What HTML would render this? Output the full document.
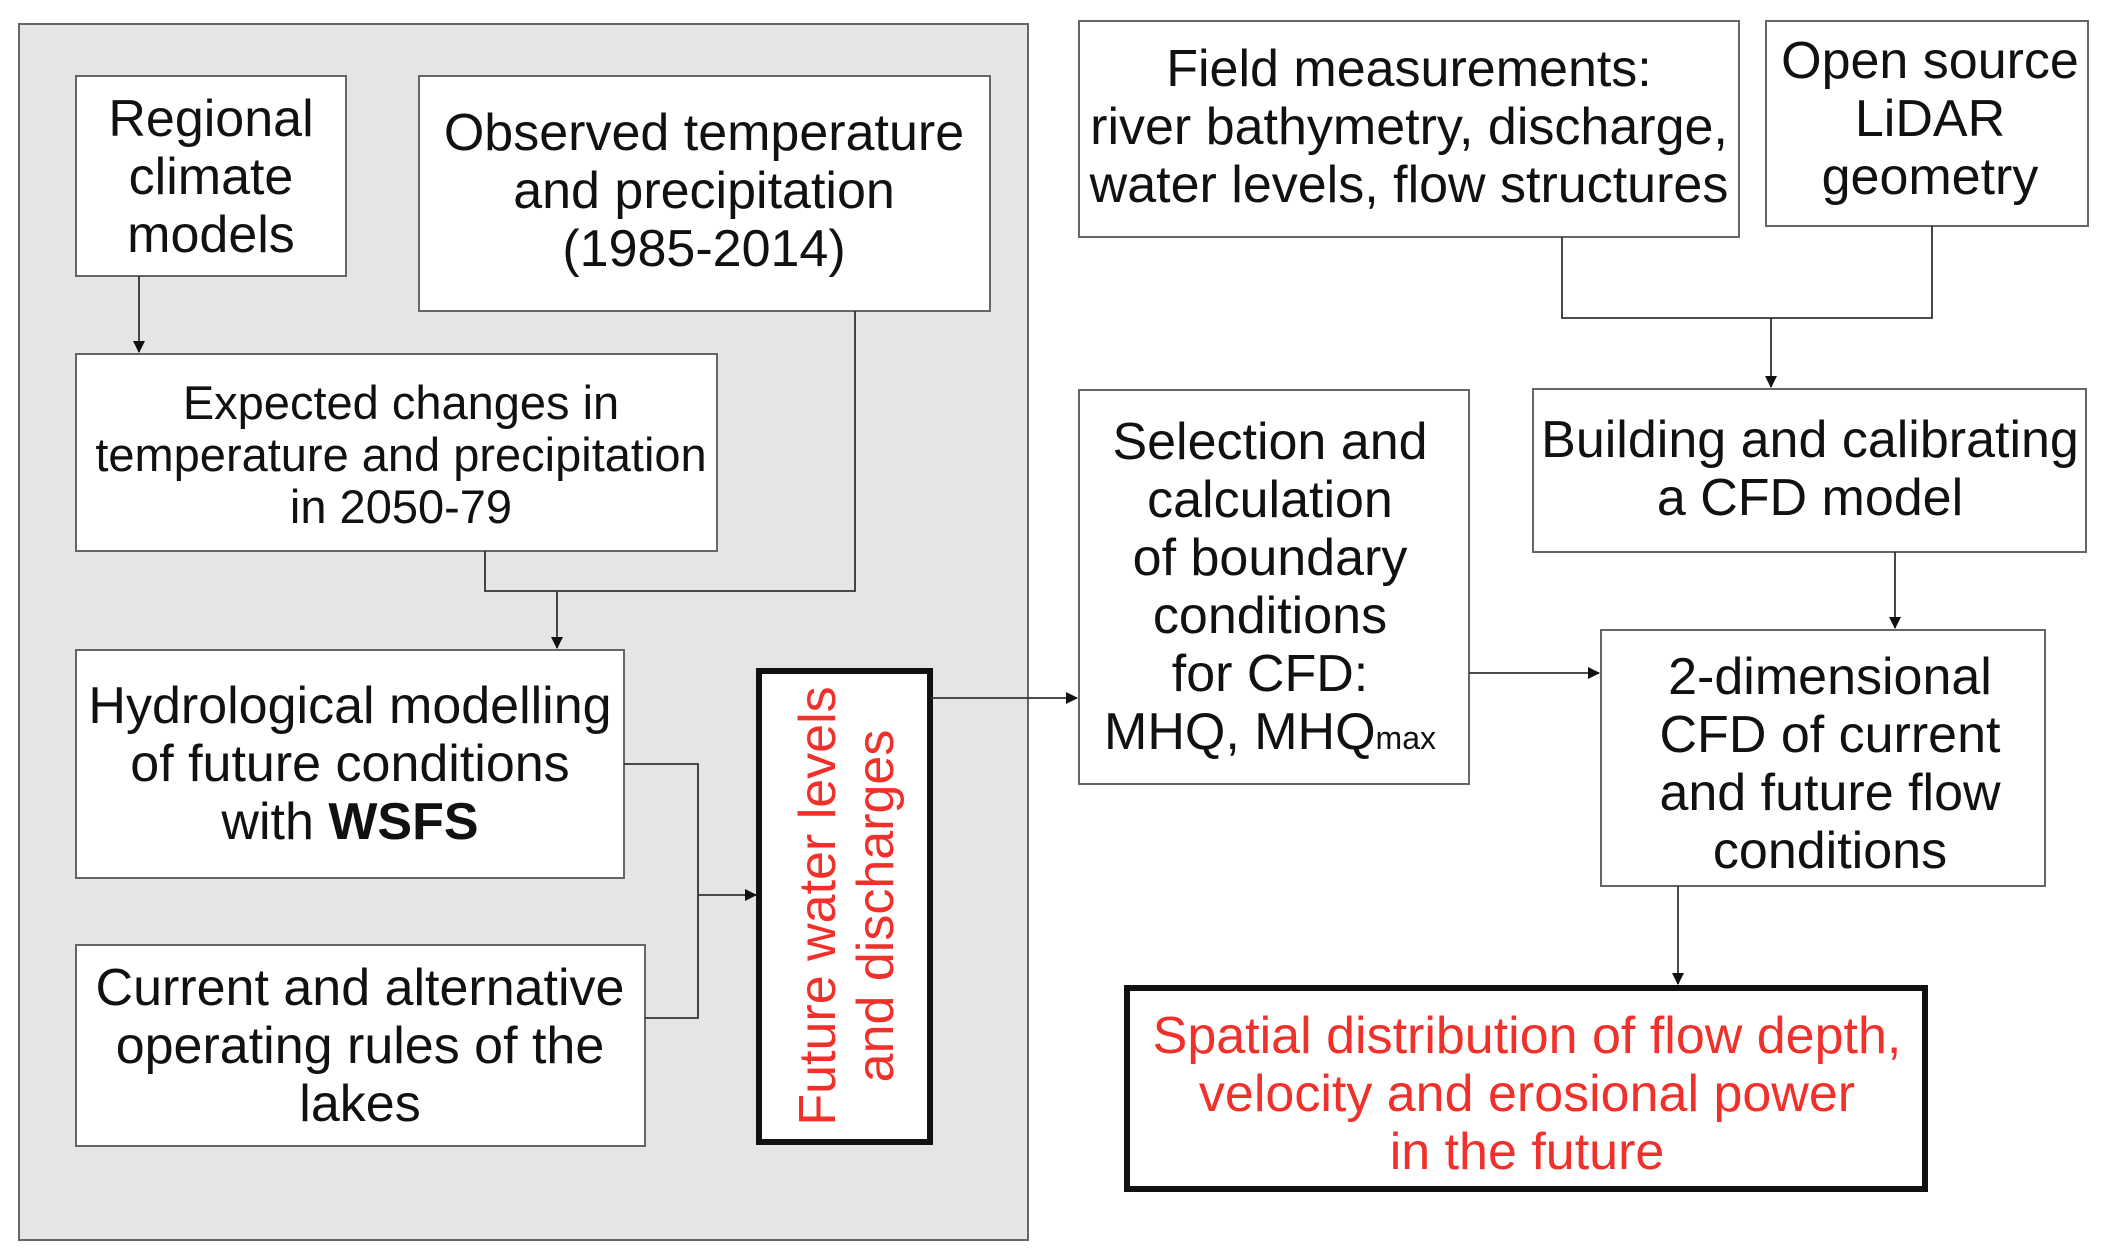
<!DOCTYPE html>
<html><head><meta charset="utf-8"><style>
html,body{margin:0;padding:0;background:#fff}
svg{display:block}
text{font-family:"Liberation Sans",Arial,sans-serif;font-size:52px;fill:#111;text-anchor:middle}
.r{fill:#f0302a}
.s{font-size:47px}
</style></head><body>
<svg width="2101" height="1255" viewBox="0 0 2101 1255" xmlns="http://www.w3.org/2000/svg">
<defs><marker id="a" markerWidth="12" markerHeight="12" refX="11" refY="6" orient="auto" markerUnits="userSpaceOnUse"><path d="M0,0 L12,6 L0,12 z" fill="#111"/></marker></defs>
<rect x="19" y="24" width="1009" height="1216" fill="#e4e5e7" stroke="#666" stroke-width="2"/>
<g fill="#fff" stroke="#666" stroke-width="2">
<rect x="76" y="76" width="270" height="200"/>
<rect x="419" y="76" width="571" height="235"/>
<rect x="76" y="354" width="641" height="197"/>
<rect x="76" y="650" width="548" height="228"/>
<rect x="76" y="945" width="569" height="201"/>
<rect x="1079" y="21" width="660" height="216"/>
<rect x="1766" y="21" width="322" height="205"/>
<rect x="1079" y="390" width="390" height="394"/>
<rect x="1533" y="389" width="553" height="163"/>
<rect x="1601" y="630" width="444" height="256"/>
</g>
<g fill="#fff" stroke="#111" stroke-width="6">
<rect x="759" y="671" width="171" height="471"/>
<rect x="1127" y="988" width="798" height="201"/>
</g>
<g stroke="#333" stroke-width="1.8" fill="none">
<path d="M139,276 V352" marker-end="url(#a)"/>
<path d="M855,311 V591 H485 V551"/>
<path d="M557,591 V648" marker-end="url(#a)"/>
<path d="M624,764 H698 V1018 H645"/>
<path d="M698,895 H756" marker-end="url(#a)"/>
<path d="M931,698 H1077" marker-end="url(#a)"/>
<path d="M1562,237 V318 H1932 V226"/>
<path d="M1771,318 V387" marker-end="url(#a)"/>
<path d="M1895,552 V628" marker-end="url(#a)"/>
<path d="M1469,673 H1599" marker-end="url(#a)"/>
<path d="M1678,886 V984" marker-end="url(#a)"/>
</g>
<text x="211" y="136">Regional</text><text x="211" y="194">climate</text><text x="211" y="252">models</text>
<text x="704" y="150">Observed temperature</text><text x="704" y="208">and precipitation</text><text x="704" y="266">(1985-2014)</text>
<text class="s" x="401" y="419">Expected changes in</text><text class="s" x="401" y="471">temperature and precipitation</text><text class="s" x="401" y="523">in 2050-79</text>
<text x="350" y="723">Hydrological modelling</text><text x="350" y="781">of future conditions</text><text x="350" y="839">with <tspan font-weight="bold">WSFS</tspan></text>
<text x="360" y="1005">Current and alternative</text><text x="360" y="1063">operating rules of the</text><text x="360" y="1121">lakes</text>
<g transform="translate(845,906) rotate(-90)"><text class="r" x="0" y="-10">Future water levels</text><text class="r" x="0" y="48">and discharges</text></g>
<text x="1409" y="86">Field measurements:</text><text x="1409" y="144">river bathymetry, discharge,</text><text x="1409" y="202">water levels, flow structures</text>
<text x="1930" y="78">Open source</text><text x="1930" y="136">LiDAR</text><text x="1930" y="194">geometry</text>
<text x="1270" y="459">Selection and</text><text x="1270" y="517">calculation</text><text x="1270" y="575">of boundary</text><text x="1270" y="633">conditions</text><text x="1270" y="691">for CFD:</text><text x="1270" y="749">MHQ, MHQ<tspan font-size="32px">max</tspan></text>
<text x="1810" y="457">Building and calibrating</text><text x="1810" y="515">a CFD model</text>
<text x="1830" y="694">2-dimensional</text><text x="1830" y="752">CFD of current</text><text x="1830" y="810">and future flow</text><text x="1830" y="868">conditions</text>
<text class="r" x="1527" y="1053">Spatial distribution of flow depth,</text><text class="r" x="1527" y="1111">velocity and erosional power</text><text class="r" x="1527" y="1169">in the future</text>
</svg>
</body></html>
